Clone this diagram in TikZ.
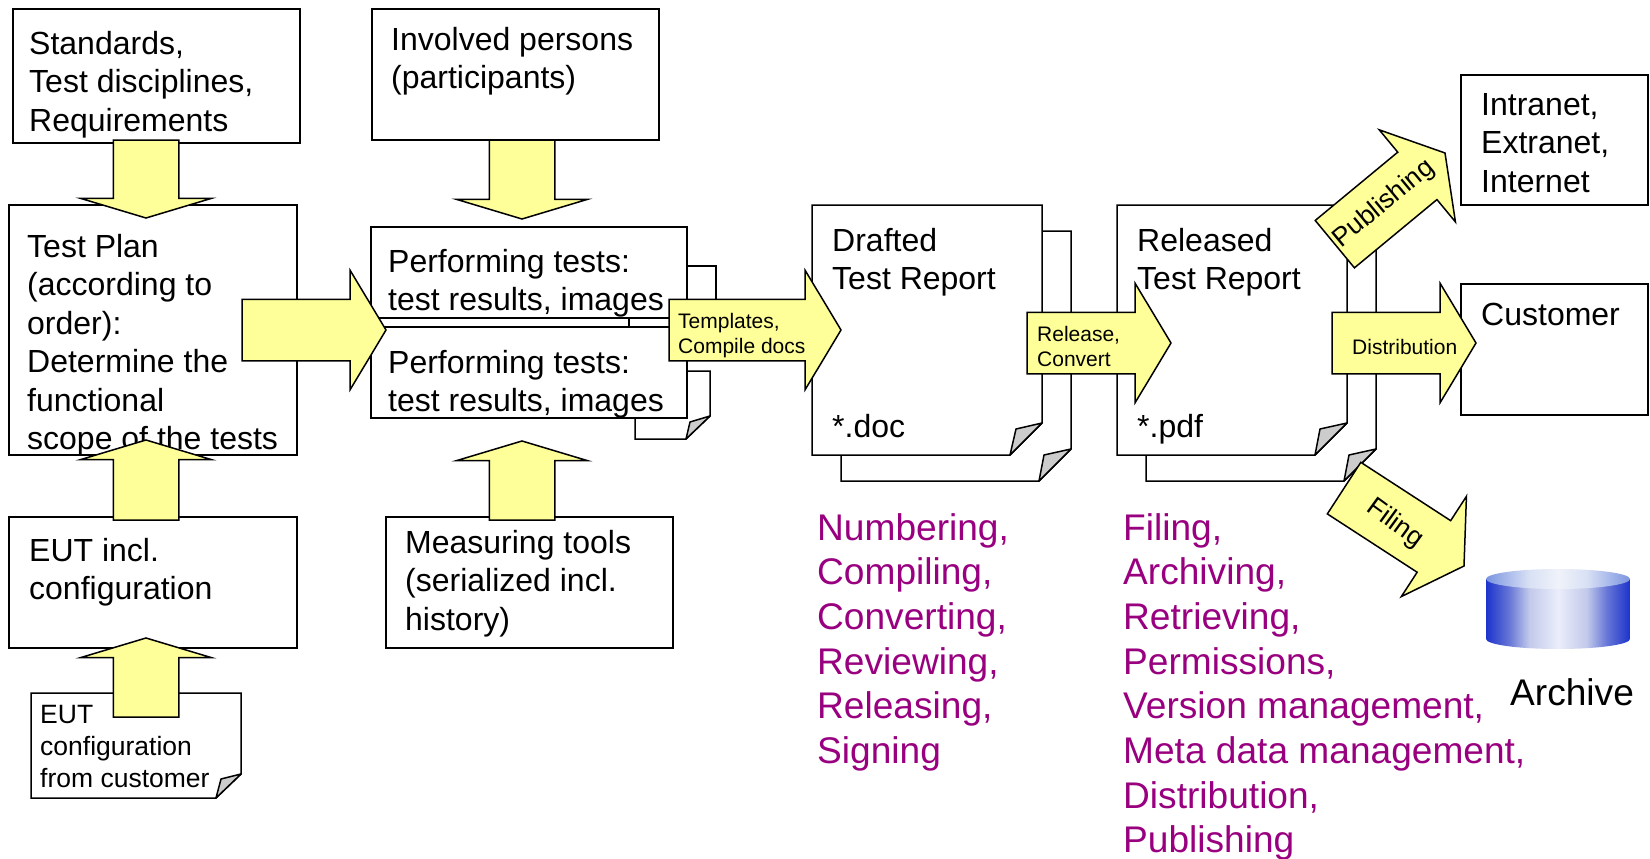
\documentclass[tikz,border=0pt]{standalone}
\usepackage{fontspec}
\setmainfont{Liberation Sans}
\usetikzlibrary{positioning, shapes.arrows, shapes.geometric}
\definecolor{arrowyellow}{RGB}{255,255,153}
\definecolor{listpurple}{RGB}{153,0,128}
\definecolor{foldgray}{RGB}{204,204,204}
\pgfdeclarehorizontalshading{archivebody}{100bp}{
  rgb(0bp)=(0.11,0.2,0.8); rgb(25bp)=(0.11,0.2,0.8); rgb(33bp)=(0.4,0.46,0.84); rgb(40bp)=(0.76,0.79,0.92);
  rgb(50bp)=(0.92,0.93,0.98); rgb(60bp)=(0.76,0.79,0.92); rgb(67bp)=(0.4,0.46,0.84); rgb(75bp)=(0.11,0.2,0.8); rgb(100bp)=(0.11,0.2,0.8)}
\pgfdeclarehorizontalshading{archivetop}{100bp}{
  rgb(0bp)=(0.48,0.58,0.88); rgb(25bp)=(0.48,0.58,0.88); rgb(40bp)=(0.85,0.88,0.96);
  rgb(50bp)=(0.94,0.95,0.98); rgb(60bp)=(0.85,0.88,0.96); rgb(75bp)=(0.48,0.58,0.88); rgb(100bp)=(0.48,0.58,0.88)}
\tikzset{
  sheet/.style={rectangle, draw, line width=1.5pt, fill=white, anchor=north west, inner sep=0pt, outer sep=0pt},
  bigtext/.style={anchor=north west, align=left, inner sep=0pt, font=\fontsize{32}{38.5}\selectfont},
  listtext/.style={anchor=north west, align=left, inner sep=0pt, text=listpurple, font=\fontsize{37.1}{44.7}\selectfont},
  arrowtext/.style={anchor=north west, align=left, inner sep=0pt, font=\fontsize{21}{25}\selectfont},
  notetext/.style={anchor=north west, align=left, inner sep=0pt, font=\fontsize{26.5}{32}\selectfont},
  page/.style={draw, line width=1.5pt, fill=white},
  fold/.style={draw, line width=1.5pt, fill=foldgray, line join=round},
  flatarrow/.style={single arrow, draw, line width=1.5pt, fill=arrowyellow, anchor=tip, inner xsep=0pt, inner ysep=32pt, outer sep=0pt,
    single arrow head extend=32.5pt, single arrow tip angle=146.6, rotate=#1},
  widearrow/.style={single arrow, draw, line width=1.5pt, fill=arrowyellow, anchor=tip, inner xsep=0pt, inner ysep=30pt, outer sep=0pt,
    single arrow head extend=29pt, single arrow tip angle=118, rotate=#1},
}
\begin{document}
\begin{tikzpicture}[x=1pt, y=-1pt]
  \useasboundingbox (0,0) rectangle (1650,859);

  \node[sheet, minimum width=287pt, minimum height=134pt] (standards) at (13,9) {};
  \node[bigtext] (standardstxt) at (29,31) {Standards,\\Test disciplines,\\Requirements};
  \node[sheet, minimum width=288pt, minimum height=250pt] (plan) at (9,205) {};
  \node[bigtext] (plantxt) at (27,234) {Test Plan\\(according to\\order):\\Determine the\\functional\\scope of the tests};
  \node[sheet, minimum width=288pt, minimum height=131pt] (eut) at (9,517) {};
  \node[bigtext] (euttxt) at (29,538) {EUT incl.\\configuration};

  \draw[page] (31,693) -- (241,693) -- (241,774) -- (216,798) -- (31,798) -- cycle;
  \draw[fold] (216,798) -- (221,779) -- (241,774) -- cycle;
  \node[notetext] (customertxt) at (40,705) {EUT\\configuration\\from customer};

  \node[sheet, minimum width=287pt, minimum height=131pt] (persons) at (372,9) {};
  \node[bigtext] (personstxt) at (391,27) {Involved persons\\(participants)};

  \node[sheet, minimum width=87pt, minimum height=73pt] (backone) at (629,266) {};
  \node[sheet, minimum width=316pt, minimum height=91pt] (testsone) at (371,227) {};
  \node[bigtext] (testsonetxt) at (388,249) {Performing tests:\\test results, images};
  \draw[page] (635,371) -- (710,371) -- (710,416) -- (686,439) -- (635,439) -- cycle;
  \draw[fold] (686,439) -- (690,422) -- (710,416) -- cycle;
  \node[sheet, minimum width=316pt, minimum height=91pt] (teststwo) at (371,327) {};
  \node[bigtext] (teststwotxt) at (388,350) {Performing tests:\\test results, images};

  \node[sheet, minimum width=287pt, minimum height=131pt] (tools) at (386,517) {};
  \node[bigtext] (toolstxt) at (405,530) {Measuring tools\\(serialized incl.\\history)};

  \draw[page] (841,231) -- (1071,231) -- (1071,449) -- (1039,481) -- (841,481) -- cycle;
  \draw[fold] (1039,481) -- (1044,455) -- (1071,449) -- cycle;
  \draw[page] (812,205) -- (1042,205) -- (1042,423) -- (1010,455) -- (812,455) -- cycle;
  \draw[fold] (1010,455) -- (1016,429) -- (1042,423) -- cycle;
  \node[bigtext] (draftedtxt) at (832,228) {Drafted\\Test Report};
  \node[bigtext] (doctxt) at (832,414) {*.doc};

  \draw[page] (1146,231) -- (1376,231) -- (1376,449) -- (1344,481) -- (1146,481) -- cycle;
  \draw[fold] (1344,481) -- (1349,455) -- (1376,449) -- cycle;
  \draw[page] (1117,205) -- (1347,205) -- (1347,423) -- (1315,455) -- (1117,455) -- cycle;
  \draw[fold] (1315,455) -- (1320,429) -- (1347,423) -- cycle;
  \node[bigtext] (releasedtxt) at (1137,228) {Released\\Test Report};
  \node[bigtext] (pdftxt) at (1137,414) {*.pdf};

  \node[sheet, minimum width=187pt, minimum height=130pt] (intranet) at (1461,75) {};
  \node[bigtext] (intranettxt) at (1481,93) {Intranet,\\Extranet,\\Internet};
  \node[sheet, minimum width=187pt, minimum height=131pt] (customer) at (1461,284) {};
  \node[bigtext] (customertitle) at (1481,303) {Customer};

  \node[flatarrow=-90, minimum height=78pt] (arrowstandards) at (146,218) {};
  \node[flatarrow=-90, minimum height=79pt] (arrowpersons) at (522,219) {};
  \node[flatarrow=90, minimum height=80pt] (arroweut) at (146,440) {};
  \node[flatarrow=90, minimum height=79pt] (arrowcustomer) at (146,638) {};
  \node[flatarrow=90, minimum height=79pt] (arrowtools) at (522,441) {};

  \node[widearrow=0, minimum height=144pt] (arrowplan) at (386,330) {};
  \node[widearrow=0, minimum height=172pt] (arrowtemplates) at (841,330) {};
  \node[arrowtext] (templatestxt) at (678,313) {Templates,\\Compile docs};
  \node[widearrow=0, minimum height=144pt] (arrowrelease) at (1171,343) {};
  \node[arrowtext] (releasetxt) at (1037,326) {Release,\\Convert};
  \node[widearrow=0, minimum height=144pt] (arrowdistribution) at (1476,343) {};
  \node[arrowtext] (distributiontxt) at (1352,339) {Distribution};
  \node[widearrow=39.6, minimum height=143pt] (arrowpublishing) at (1445,153) {};
  \node[notetext, anchor=center, rotate=39.6] (publishingtxt) at (1384,204) {Publishing};
  \node[widearrow=-33, minimum height=143pt] (arrowfiling) at (1464,566) {};
  \node[notetext, anchor=center, rotate=-36] (filingtxt) at (1395,524) {Filing};

  \node[listtext] (draftedlist) at (817,513) {Numbering,\\Compiling,\\Converting,\\Reviewing,\\Releasing,\\Signing};
  \node[listtext] (releasedlist) at (1123,513) {Filing,\\Archiving,\\Retrieving,\\Permissions,\\Version management,\\Meta data management,\\Distribution,\\Publishing};

  \shade[shading=archivebody] (1486,579) -- (1486,639) arc[x radius=72, y radius=10, start angle=180, end angle=0] -- (1630,579) -- cycle;
  \shade[shading=archivetop] (1558,579) ellipse[x radius=72, y radius=10];
  \node[listtext, text=black] (archivetxt) at (1510,678) {Archive};
\end{tikzpicture}
\end{document}
